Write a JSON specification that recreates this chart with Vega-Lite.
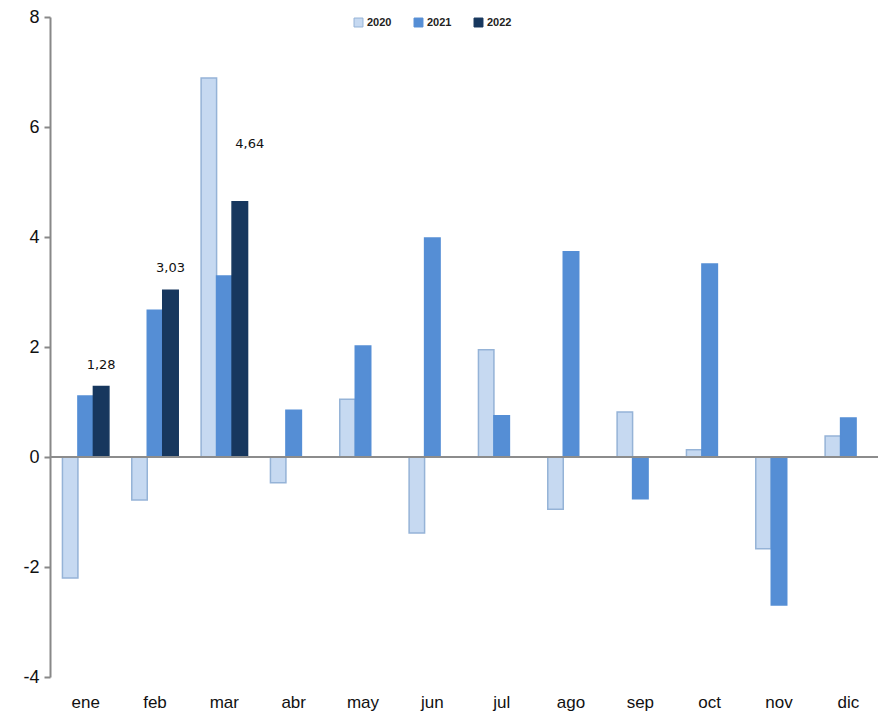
{
  "$schema": "https://vega.github.io/schema/vega-lite/v6.json",
  "width": 828,
  "height": 660,
  "autosize": "none",
  "padding": {"left": 50, "top": 17, "right": 0, "bottom": 36},
  "background": "white",
  "config": {
    "view": {"stroke": null},
    "locale": {"number": {"decimal": ",", "thousands": ".", "grouping": [3], "currency": ["", " €"], "minus": "-"}}
  },
  "data": {
    "values": [
      {"mes": "ene", "anio": "2020", "valor": -2.2},
      {"mes": "ene", "anio": "2021", "valor": 1.11},
      {"mes": "ene", "anio": "2022", "valor": 1.28},
      {"mes": "feb", "anio": "2020", "valor": -0.78},
      {"mes": "feb", "anio": "2021", "valor": 2.67},
      {"mes": "feb", "anio": "2022", "valor": 3.03},
      {"mes": "mar", "anio": "2020", "valor": 6.89},
      {"mes": "mar", "anio": "2021", "valor": 3.29},
      {"mes": "mar", "anio": "2022", "valor": 4.64},
      {"mes": "abr", "anio": "2020", "valor": -0.47},
      {"mes": "abr", "anio": "2021", "valor": 0.85},
      {"mes": "may", "anio": "2020", "valor": 1.05},
      {"mes": "may", "anio": "2021", "valor": 2.02},
      {"mes": "jun", "anio": "2020", "valor": -1.38},
      {"mes": "jun", "anio": "2021", "valor": 3.98},
      {"mes": "jul", "anio": "2020", "valor": 1.95},
      {"mes": "jul", "anio": "2021", "valor": 0.75},
      {"mes": "ago", "anio": "2020", "valor": -0.95},
      {"mes": "ago", "anio": "2021", "valor": 3.73},
      {"mes": "sep", "anio": "2020", "valor": 0.82},
      {"mes": "sep", "anio": "2021", "valor": -0.76},
      {"mes": "oct", "anio": "2020", "valor": 0.13},
      {"mes": "oct", "anio": "2021", "valor": 3.51},
      {"mes": "nov", "anio": "2020", "valor": -1.67},
      {"mes": "nov", "anio": "2021", "valor": -2.69},
      {"mes": "dic", "anio": "2020", "valor": 0.38},
      {"mes": "dic", "anio": "2021", "valor": 0.71}
    ]
  },
  "encoding": {
    "x": {
      "field": "mes", "type": "nominal",
      "sort": ["ene","feb","mar","abr","may","jun","jul","ago","sep","oct","nov","dic"],
      "scale": {"paddingInner": 0.33, "paddingOuter": 0.165, "range": [1, 833]},
      "axis": {"title": null, "domain": false, "ticks": false, "labelAngle": 0, "labelPadding": 17, "labelFontSize": 17, "labelFont": "Liberation Sans", "labelColor": "#111"}
    },
    "xOffset": {"field": "anio", "type": "nominal", "scale": {"domain": ["2020","2021","2022"], "paddingInner": 0, "paddingOuter": 0}},
    "y": {
      "field": "valor", "type": "quantitative",
      "scale": {"domain": [-4, 8], "nice": false},
      "axis": {"title": null, "values": [-4,-2,0,2,4,6,8], "grid": false, "domainColor": "#888", "domainWidth": 2, "tickColor": "#888", "tickSize": 6, "tickWidth": 2, "labelFontSize": 18, "labelFont": "Liberation Sans", "labelColor": "#111", "labelPadding": 5}
    }
  },
  "layer": [
    {
      "mark": {"type": "bar", "strokeWidth": 1.5},
      "encoding": {
        "fill": {"field": "anio", "type": "nominal", "scale": {"domain": ["2020","2021","2022"], "range": ["#C6D9F1","#558ED5","#17375E"]},
          "legend": {"title": null, "orient": "none", "direction": "horizontal", "legendX": 303, "legendY": 0, "symbolType": "square", "symbolSize": 80, "labelFontSize": 11, "labelFont": "Liberation Sans", "labelFontWeight": "bold", "labelColor": "#222", "columnPadding": 20, "labelOffset": 3, "symbolStrokeWidth": 1}},
        "stroke": {"field": "anio", "type": "nominal", "scale": {"domain": ["2020","2021","2022"], "range": ["#95B3D7","#558ED5","#17375E"]}}
      }
    },
    {
      "mark": {"type": "rule", "color": "#8c8c8c", "strokeWidth": 2},
      "encoding": {"y": {"datum": 0}, "x": null, "xOffset": null}
    },
    {
      "transform": [{"filter": "datum.anio == '2022' && datum.mes != 'mar'"}],
      "mark": {"type": "text", "dy": -22, "fontSize": 13, "font": "DejaVu Sans", "color": "#111"},
      "encoding": {"text": {"field": "valor", "type": "quantitative", "format": ".2f"}}
    },
    {
      "transform": [{"filter": "datum.anio == '2022' && datum.mes == 'mar'"}],
      "mark": {"type": "text", "dy": -58, "dx": 10, "fontSize": 13, "font": "DejaVu Sans", "color": "#111"},
      "encoding": {"text": {"field": "valor", "type": "quantitative", "format": ".2f"}}
    }
  ]
}
